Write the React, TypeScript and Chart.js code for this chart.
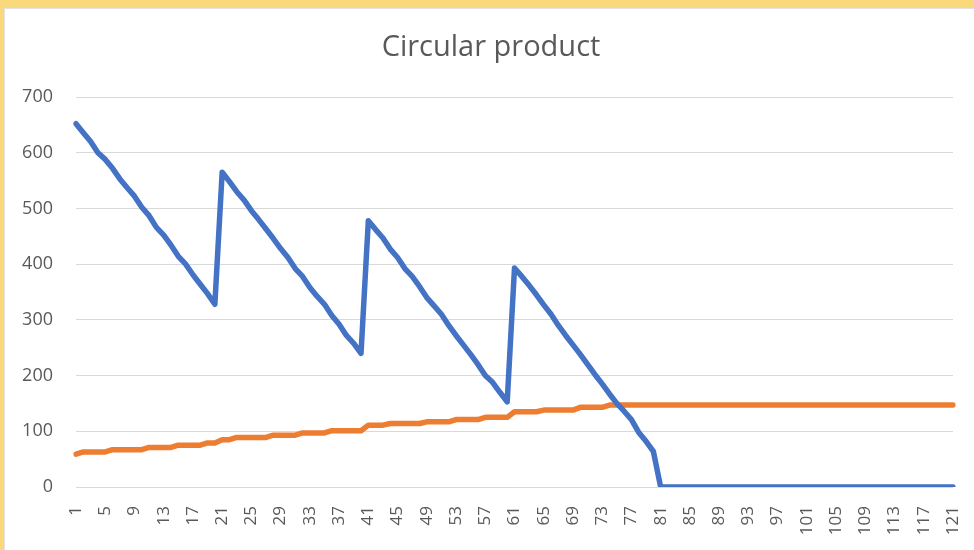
import React, { useEffect, useRef } from "react";
import { Chart, registerables } from "chart.js";

Chart.register(...registerables);

const TITLE = "Circular product";

const categories: string[] = [
  "1","2","3","4","5","6","7","8","9","10",
  "11","12","13","14","15","16","17","18","19","20",
  "21","22","23","24","25","26","27","28","29","30",
  "31","32","33","34","35","36","37","38","39","40",
  "41","42","43","44","45","46","47","48","49","50",
  "51","52","53","54","55","56","57","58","59","60",
  "61","62","63","64","65","66","67","68","69","70",
  "71","72","73","74","75","76","77","78","79","80",
  "81","82","83","84","85","86","87","88","89","90",
  "91","92","93","94","95","96","97","98","99","100",
  "101","102","103","104","105","106","107","108","109","110",
  "111","112","113","114","115","116","117","118","119","120",
  "121",
];

// Blue series
const blueValues: number[] = [
  652, 636, 620, 600, 588, 572, 553, 537, 522, 502,
  487, 466, 452, 434, 414, 400, 381, 364, 347, 328,
  565, 548, 530, 515, 496, 480, 463, 446, 428, 412,
  392, 378, 358, 342, 328, 308, 292, 272, 258, 240,
  478, 462, 447, 427, 412, 392, 378, 360, 340, 325,
  310, 290, 272, 255, 238, 220, 200, 188, 170, 153,
  393, 378, 362, 345, 327, 310, 290, 272, 255, 238,
  220, 202, 185, 167, 150, 136, 121, 98, 82, 64,
  0, 0, 0, 0, 0, 0, 0, 0, 0, 0,
  0, 0, 0, 0, 0, 0, 0, 0, 0, 0,
  0, 0, 0, 0, 0, 0, 0, 0, 0, 0,
  0, 0, 0, 0, 0, 0, 0, 0, 0, 0,
  0,
];

// Orange series
const orangeValues: number[] = [
  59, 63, 63, 63, 63, 67, 67, 67, 67, 67,
  71, 71, 71, 71, 75, 75, 75, 75, 79, 79,
  85, 85, 89, 89, 89, 89, 89, 93, 93, 93,
  93, 97, 97, 97, 97, 101, 101, 101, 101, 101,
  111, 111, 111, 114, 114, 114, 114, 114, 117, 117,
  117, 117, 121, 121, 121, 121, 125, 125, 125, 125,
  135, 135, 135, 135, 138, 138, 138, 138, 138, 143,
  143, 143, 143, 147, 147, 147, 147, 147, 147, 147,
  147, 147, 147, 147, 147, 147, 147, 147, 147, 147,
  147, 147, 147, 147, 147, 147, 147, 147, 147, 147,
  147, 147, 147, 147, 147, 147, 147, 147, 147, 147,
  147, 147, 147, 147, 147, 147, 147, 147, 147, 147,
  147,
];

const yMin = 0;
const yMax = 700;
const yStep = 100;
const xLabelEvery = 4;

const TEXT = "#595959";
const FONT = "'Open Sans', sans-serif";

export default function App() {
  const ref = useRef<HTMLCanvasElement | null>(null);

  useEffect(() => {
    if (!ref.current) return;
    const chart = new Chart(ref.current, {
      type: "line",
      data: {
        labels: categories,
        datasets: [
          {
            label: "A",
            data: blueValues,
            borderColor: "#4472C4",
            backgroundColor: "#4472C4",
            borderWidth: 5.5,
            pointRadius: 0,
            borderJoinStyle: "round",
            borderCapStyle: "round",
            tension: 0,
          },
          {
            label: "B",
            data: orangeValues,
            borderColor: "#ED7D31",
            backgroundColor: "#ED7D31",
            borderWidth: 5.5,
            pointRadius: 0,
            borderJoinStyle: "round",
            borderCapStyle: "round",
            tension: 0,
          },
        ],
      },
      options: {
        animation: false,
        responsive: false,
        layout: { padding: { left: 0, right: 21, top: 97, bottom: 0 } },
        plugins: {
          legend: { display: false },
          tooltip: { enabled: false },
          title: { display: false },
        },
        scales: {
          x: {
            offset: false,
            grid: { display: false, drawTicks: false },
            border: { display: false },
            ticks: {
              autoSkip: false,
              minRotation: 90,
              maxRotation: 90,
              padding: 19,
              color: TEXT,
              font: { family: FONT, size: 17 },
              callback: (_v: any, i: number) => (i % xLabelEvery === 0 ? categories[i] : ""),
            },
            afterFit: (s: any) => {
              s.height = 63;
              s.paddingLeft = 0;
              s.paddingRight = 0;
            },
          },
          y: {
            min: yMin,
            max: yMax,
            grid: { color: "#d9d9d9", lineWidth: 1, drawTicks: false },
            border: { display: false },
            ticks: {
              stepSize: yStep,
              padding: 23,
              color: TEXT,
              font: { family: FONT, size: 18 },
            },
            afterFit: (s: any) => {
              s.width = 76;
              s.paddingTop = 0;
            },
          },
        },
      },
    });
    return () => chart.destroy();
  }, []);

  return (
    <div
      style={{
        position: "fixed",
        left: 0,
        top: 0,
        width: 974,
        height: 550,
        background: "#F9D97B",
        overflow: "hidden",
      }}
    >
      <div
        style={{
          position: "absolute",
          left: 4,
          top: 8,
          right: 0,
          bottom: 0,
          background: "#ffffff",
          borderTop: "1px solid #e3e3e3",
          borderLeft: "1px solid #e3e3e3",
        }}
      />
      <canvas
        ref={ref}
        width={974}
        height={550}
        style={{ position: "absolute", left: 0, top: 0, width: 974, height: 550 }}
      />
      <div
        style={{
          position: "absolute",
          left: 0,
          width: 982,
          top: 27,
          textAlign: "center",
          fontFamily: FONT,
          fontSize: 29,
          lineHeight: "36px",
          color: TEXT,
          whiteSpace: "nowrap",
        }}
      >
        {TITLE}
      </div>
    </div>
  );
}
